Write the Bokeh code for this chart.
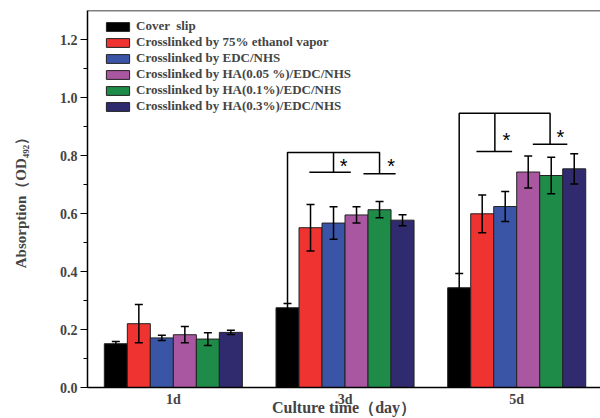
from bokeh.plotting import figure
from bokeh.models import (Range1d, FixedTicker, SingleIntervalTicker, PrintfTickFormatter,
                          ColumnDataSource, Whisker, TeeHead, Legend, LegendItem, Span)
from bokeh.core.properties import value
from bokeh.embed import file_html
from bokeh.resources import INLINE

# ---------------- data ----------------
days = ["1d", "3d", "5d"]
day_pos = [1, 2, 3]
series = ["Cover  slip", "Crosslinked by 75% ethanol vapor", "Crosslinked by EDC/NHS",
          "Crosslinked by HA(0.05 %)/EDC/NHS", "Crosslinked by HA(0.1%)/EDC/NHS",
          "Crosslinked by HA(0.3%)/EDC/NHS"]
colors = ["#000000", "#EE3330", "#3A55A5", "#A857A0", "#1E8B48", "#302B6E"]

cover_slip = [0.151, 0.275, 0.344]
cover_slip_err = [0.008, 0.015, 0.049]
ethanol = [0.220, 0.551, 0.599]
ethanol_err = [0.066, 0.080, 0.065]
edc_nhs = [0.171, 0.567, 0.624]
edc_nhs_err = [0.009, 0.056, 0.052]
ha005 = [0.182, 0.595, 0.743]
ha005_err = [0.028, 0.028, 0.055]
ha01 = [0.167, 0.613, 0.731]
ha01_err = [0.022, 0.028, 0.063]
ha03 = [0.190, 0.577, 0.754]
ha03_err = [0.007, 0.019, 0.052]

means = [cover_slip, ethanol, edc_nhs, ha005, ha01, ha03]
errs = [cover_slip_err, ethanol_err, edc_nhs_err, ha005_err, ha01_err, ha03_err]

# significance brackets (3d and 5d groups); x given in bar-width offsets from group centre
br_group = [2, 3]
br_top = [0.81, 0.946]
br_left = [-2.5, -2.5]
br_right = [1.5, 1.45]
br_mid_x = [-0.5, -0.95]
br_mid_y = [0.742, 0.814]
br_mid_x0 = [-1.55, -1.75]
br_mid_x1 = [0.25, -0.2]
br_right_y = [0.737, 0.839]
br_right_x0 = [0.8, 0.7]
br_right_x1 = [2.2, 2.2]
star_off = [[-0.06, 2.0], [-0.45, 1.9]]
star_y = [[0.776, 0.776], [0.868, 0.879]]

BW = 0.134  # bar width in axis units

# ---------------- figure ----------------
p = figure(width=600, height=418, x_range=Range1d(0.5, 3.488), y_range=Range1d(0, 1.3),
           output_backend="svg", toolbar_location=None,
           min_border_left=87, min_border_right=0, min_border_top=10, min_border_bottom=30)
p.outline_line_color = None
p.xgrid.visible = False
p.ygrid.visible = False

FONT = "Liberation Serif"

renderers = []
for i in range(6):
    xs = [g + (i - 2.5) * BW for g in day_pos]
    src = ColumnDataSource(dict(x=xs, top=means[i],
                                upper=[m + e for m, e in zip(means[i], errs[i])],
                                lower=[m - e for m, e in zip(means[i], errs[i])]))
    r = p.vbar(x="x", top="top", width=BW, source=src, fill_color=colors[i],
               line_color="#222222", line_width=1)
    renderers.append(r)
    w = Whisker(base="x", upper="upper", lower="lower", source=src, line_color="black",
                line_width=1.5, level="annotation",
                upper_head=TeeHead(size=8, line_width=1.5, line_color="black"),
                lower_head=TeeHead(size=8, line_width=1.5, line_color="black"))
    p.add_layout(w)

# brackets
for k in range(2):
    g = br_group[k]
    gi = day_pos.index(g)
    start_y = cover_slip[gi] + cover_slip_err[gi]
    x_left = g + br_left[k] * BW
    x_right = g + br_right[k] * BW
    p.line([x_left, x_left, x_right, x_right], [start_y, br_top[k], br_top[k], br_right_y[k]],
           line_color="black", line_width=1.5)
    p.line([g + br_mid_x[k] * BW] * 2, [br_top[k], br_mid_y[k]], line_color="black", line_width=1.5)
    p.line([g + br_mid_x0[k] * BW, g + br_mid_x1[k] * BW], [br_mid_y[k]] * 2,
           line_color="black", line_width=1.5)
    p.line([g + br_right_x0[k] * BW, g + br_right_x1[k] * BW], [br_right_y[k]] * 2,
           line_color="black", line_width=1.5)
    p.text(x=[g + o * BW for o in star_off[k]], y=star_y[k], text=["*", "*"],
           text_font=value("Liberation Sans"), text_font_size="20px", y_offset=4,
           text_align="center", text_baseline="middle", text_color="black")

# top frame line
p.add_layout(Span(location=1.3, dimension="width", line_color="black", line_width=1.5))

# axes
xa = p.xaxis[0]
xa.ticker = FixedTicker(ticks=day_pos)
xa.major_label_overrides = {d: lab for d, lab in zip(day_pos, days)}
xa.major_tick_out = 0
xa.major_tick_in = 0
xa.minor_tick_out = 0
xa.axis_line_width = 1.5
xa.major_label_text_font = FONT
xa.major_label_text_font_style = "bold"
xa.major_label_text_font_size = "14px"
xa.major_label_standoff = 4
xa.axis_label = "Culture time（day）"
xa.axis_label_text_font = FONT
xa.axis_label_text_font_style = "bold"
xa.axis_label_text_font_size = "16px"
xa.axis_label_standoff = -11

ya = p.yaxis[0]
ya.ticker = SingleIntervalTicker(interval=0.2, num_minor_ticks=2)
ya.formatter = PrintfTickFormatter(format="%.1f")
ya.major_tick_out = 7
ya.major_tick_in = 0
ya.minor_tick_out = 4
ya.minor_tick_in = 0
ya.axis_line_width = 1.5
ya.major_tick_line_width = 1.2
ya.minor_tick_line_width = 1.2
ya.major_label_text_font = FONT
ya.major_label_text_font_style = "bold"
ya.major_label_text_font_size = "14px"
ya.major_label_standoff = 3
ya.axis_label = "Absorption（OD₄₉₂）"
ya.axis_label_text_font = FONT
ya.axis_label_text_font_style = "bold"
ya.axis_label_text_font_size = "15px"
ya.axis_label_standoff = 28

legend = Legend(items=[LegendItem(label=series[i], renderers=[renderers[i]]) for i in range(6)],
                location=(16, 273), glyph_width=29, glyph_height=11, label_height=14,
                spacing=0, padding=0, margin=0, label_standoff=4,
                border_line_color=None, background_fill_alpha=0,
                label_text_font=FONT, label_text_font_style="bold",
                label_text_font_size="13px")
p.add_layout(legend)

open("out.html", "w").write(file_html(p, INLINE))
